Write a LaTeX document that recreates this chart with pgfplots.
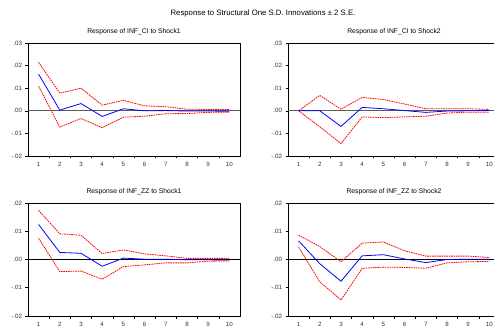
\documentclass[border=0pt]{standalone}
\usepackage{fontspec}
\setmainfont{Liberation Sans}
\usepackage{pgfplots}
\pgfplotsset{compat=1.18}
\definecolor{zeroline}{RGB}{90,90,90}
\pgfplotsset{
  irf/.style={
    scale only axis, width=212bp, height=113bp, anchor=south west,
    xmin=0.5, xmax=10.5,
    scaled y ticks=false,
    xtick={1,...,10}, xticklabels={1,2,3,4,5,6,7,8,9,10},
    minor xtick={1.5,2.5,...,9.5},
    major x tick style={draw=none},
    tick align=outside, tick pos=left,
    major tick length=2.5bp, minor tick length=2.5bp,
    tick style={black, line width=0.6pt},
    axis line style={line width=0.8pt},
    every tick label/.style={font=\fontsize{6.2}{7}\selectfont, text=black!80},
    xticklabel style={yshift=-0.5bp},
    /pgf/number format/assume math mode=true,
    title style={font=\fontsize{6.8}{8}\selectfont, yshift=-1bp},
    clip=false,
  },
  blu/.style={blue, line width=0.8pt},
  rd/.style={red, line width=0.8pt, dash pattern=on 1.6pt off 0.8pt},
}
\begin{document}
\begin{tikzpicture}
\useasboundingbox (0,0) rectangle (494bp,327bp);
\clip (0,0) rectangle (494bp,327bp);
\node[font=\fontsize{7.8}{9}\selectfont] at (263bp,314bp) {Response to Structural One S.D. Innovations ± 2 S.E.};
% Top-left
\begin{axis}[irf, at={(28bp,171bp)}, ymin=-0.02, ymax=0.03,
  ytick={-0.02,-0.01,0,0.01,0.02,0.03}, yticklabels={-.02,-.01,.00,.01,.02,.03},
  title={Response of INF\_CI to Shock1}]
\addplot[zeroline, line width=1.2pt] coordinates {(0.5,0) (10.5,0)};
\addplot[rd] coordinates {(1,0.0215) (2,0.0078) (3,0.0100) (4,0.0025) (5,0.0046) (6,0.0022) (7,0.0018) (8,0.0007) (9,0.0006) (10,0.0006)};
\addplot[rd] coordinates {(1,0.0109) (2,-0.0072) (3,-0.0034) (4,-0.0075) (5,-0.0028) (6,-0.0024) (7,-0.0013) (8,-0.0012) (9,-0.0007) (10,-0.0006)};
\addplot[blu] coordinates {(1,0.0162) (2,0.0003) (3,0.0032) (4,-0.0025) (5,0.0009) (6,0.0) (7,0.0001) (8,-0.0001) (9,-0.0001) (10,-0.0002)};
\end{axis}
% Top-right
\begin{axis}[irf, at={(288bp,171bp)}, ymin=-0.02, ymax=0.03,
  ytick={-0.02,-0.01,0,0.01,0.02,0.03}, yticklabels={-.02,-.01,.00,.01,.02,.03},
  title={Response of INF\_CI to Shock2}]
\addplot[zeroline, line width=1.2pt] coordinates {(0.5,0) (10.5,0)};
\addplot[rd] coordinates {(1,0) (2,0.0068) (3,0.0007) (4,0.0059) (5,0.0050) (6,0.0030) (7,0.0009) (8,0.0009) (9,0.0009) (10,0.0006)};
\addplot[rd] coordinates {(1,0) (2,-0.0071) (3,-0.0145) (4,-0.0027) (5,-0.0030) (6,-0.0027) (7,-0.0024) (8,-0.0010) (9,-0.0006) (10,-0.0006)};
\addplot[blu] coordinates {(1,0) (2,0) (3,-0.0069) (4,0.0015) (5,0.0009) (6,0.0001) (7,-0.0007) (8,-0.0001) (9,0.0) (10,0.0001)};
\end{axis}
% Bottom-left
\begin{axis}[irf, at={(28bp,11bp)}, ymin=-0.02, ymax=0.02,
  ytick={-0.02,-0.01,0,0.01,0.02}, yticklabels={-.02,-.01,.00,.01,.02},
  title={Response of INF\_ZZ to Shock1}]
\addplot[black, line width=1.0pt] coordinates {(0.5,0) (10.5,0)};
\addplot[rd] coordinates {(1,0.0174) (2,0.0091) (3,0.0086) (4,0.0021) (5,0.0034) (6,0.0020) (7,0.0013) (8,0.0004) (9,0.0004) (10,0.0004)};
\addplot[rd] coordinates {(1,0.0075) (2,-0.0043) (3,-0.0041) (4,-0.0070) (5,-0.0025) (6,-0.0019) (7,-0.0012) (8,-0.0012) (9,-0.0006) (10,-0.0005)};
\addplot[blu] coordinates {(1,0.0124) (2,0.0025) (3,0.0022) (4,-0.0024) (5,0.0005) (6,0.0001) (7,0.0001) (8,-0.0001) (9,-0.0001) (10,-0.0002)};
\end{axis}
% Bottom-right
\begin{axis}[irf, at={(288bp,11bp)}, ymin=-0.02, ymax=0.02,
  ytick={-0.02,-0.01,0,0.01,0.02}, yticklabels={-.02,-.01,.00,.01,.02},
  title={Response of INF\_ZZ to Shock2}]
\addplot[black, line width=1.0pt] coordinates {(0.5,0) (10.5,0)};
\addplot[rd] coordinates {(1,0.0086) (2,0.0046) (3,-0.0008) (4,0.0058) (5,0.0062) (6,0.0031) (7,0.0012) (8,0.0012) (9,0.0012) (10,0.0007)};
\addplot[rd] coordinates {(1,0.0044) (2,-0.0079) (3,-0.0143) (4,-0.0031) (5,-0.0027) (6,-0.0028) (7,-0.0031) (8,-0.0012) (9,-0.0008) (10,-0.0007)};
\addplot[blu] coordinates {(1,0.0066) (2,-0.0015) (3,-0.0077) (4,0.0013) (5,0.0017) (6,0.0002) (7,-0.0011) (8,0.0) (9,0.0001) (10,0.0001)};
\end{axis}
\end{tikzpicture}
\end{document}
